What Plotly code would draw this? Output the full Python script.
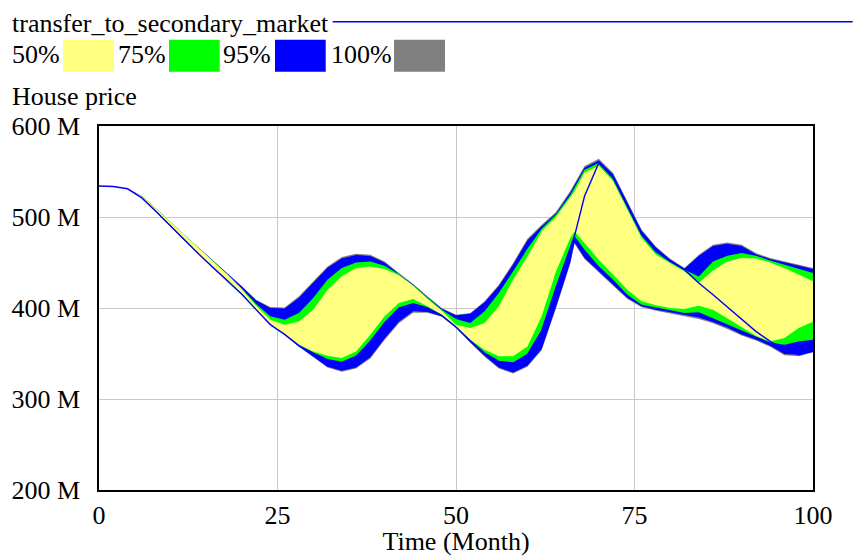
import plotly.graph_objects as go

# ---- data (House price, millions) ----
time = [0, 2, 4, 6, 8, 10, 12, 14, 16, 18, 20, 22, 24, 26, 28, 30, 32, 34, 36, 38, 40, 42, 44, 46, 48, 50,
        52, 54, 56, 58, 60, 62, 64, 66, 66.6, 68, 70, 72, 74, 76, 78, 80, 82, 84, 86, 88, 90, 92, 94, 96, 98, 100]

hi100 = [534, 533.5, 531, 523, 509, 494, 480, 466,
         452, 438, 424, 409, 401,
         400.5, 412.8, 429.3, 445.7, 456.0, 459.7, 458.6, 451.2, 438.4, 426.5, 412.8, 400.0, 392.6,
         394.5, 407.3, 425.6, 449.4, 476.0, 491.5, 505.5, 528.5,
         537,
         556, 564, 548.3, 517.2, 486.1, 467.7, 454.0, 443.9, 458.6, 469.6, 472.1, 469.6, 460.4, 454.9, 451.2, 447.6, 443.9]
hi95 = [534, 533.5, 531, 523, 509, 494, 480, 466,
        452, 438, 423.8, 408.6, 400,
        399.5, 411.3, 427.8, 444.2, 454.5, 458.2, 457.2, 450, 437.3, 425.6, 412, 399.3, 392,
        393.7, 406.2, 424.2, 447.8, 474.3, 489.8, 503.8, 526.7,
        535.2,
        554.2, 562, 547, 515.8, 484.8, 466.5, 453.2, 443.3, 457.2, 468, 470.6, 468.2, 459.2, 453.8, 450.2, 446.5, 442.8]
hi75 = [534, 533.5, 531, 523, 509, 494, 480, 465.8,
        451.5, 437, 421.5, 404.5, 391,
        387.1, 394.5, 411, 431.1, 443.9, 450.1, 451.2, 446.5, 437, 425, 411, 398, 387.9,
        383.5, 396.3, 416.5, 440.3, 465, 487, 502.5, 524,
        532,
        552, 559.3, 542.8, 511.7, 480.6, 462.2, 451.2, 442.1, 434.7, 451.2, 457.5, 460.4, 457.5, 452.3, 447.6, 442.8, 438.4]
hi50 = [534, 533.5, 531, 523, 509, 494, 480, 465.6,
        451, 436.5, 420.5, 402.5, 387.1,
        381.7, 385.3, 398.1, 420.1, 434.8, 443.9, 445.7, 442.8, 436, 424.5, 410, 397, 381.7,
        378, 383.5, 401.8, 431.1, 456.7, 484, 500, 520.8,
        528,
        549, 556.4, 539.2, 508, 476.9, 458.6, 449.4, 440.2, 427.4, 441.3, 451.2, 454.9, 454.5, 450.1, 443.9, 436.6, 429.3]
lo50 = [534, 533.5, 531, 521.5, 506.5, 490.5, 474.5, 459.5,
        445, 431, 416, 399, 383,
        371.5, 359.7, 352.3, 347.6, 345, 352.3, 370.6, 390.8, 405.5, 409.9, 401.8, 392.6, 379.8,
        365.2, 354.2, 346.9, 346.9, 357.8, 391, 440, 477,
        484,
        471.4, 453.1, 436.6, 420.1, 407.3, 402.9, 400, 398.9, 402.5, 398.1, 387.9, 379.1, 369.5, 363.3, 367, 378, 385]
lo75 = [534, 533.5, 531, 521.3, 506.3, 490.3, 474.3, 459.3,
        444.6, 430.6, 415.6, 398.6, 382.3,
        371, 358.6, 350.5, 343.2, 340.2, 346.8, 363.3, 383.5, 400, 404.7, 400, 391.9, 379.1,
        364.1, 350.5, 341.4, 339.5, 348.7, 375, 422, 466,
        479,
        464.1, 445.8, 431.1, 414.6, 403.6, 400, 397.4, 394.5, 395.2, 389, 381.6, 375.4, 368.8, 362.2, 359.7, 363.3, 365]
lo95 = [534, 533.5, 531, 521, 506, 490, 474, 459,
        444.2, 430.2, 415.2, 398.2, 381.6,
        370.6, 357.8, 347, 335.5, 331, 334.5, 346, 366.5, 385, 396.5, 395.5, 391, 378.5,
        362.5, 347.5, 334.5, 329, 336.5, 355, 401, 450,
        472,
        455, 440.3, 425.6, 411, 401.8, 398.1, 395.2, 392, 389.5, 384.5, 378.5, 371, 365.5, 358.5, 349.5, 348.5, 352.5]
lo100 = [534, 533.5, 531, 521, 506, 490, 474, 459,
         444, 430, 415, 398, 381.3,
         370.3, 357.3, 346.3, 334.5, 330, 333.5, 344.5, 364.8, 383.3, 394.8, 394.8, 390.5, 378,
         361.8, 346.5, 333.5, 328, 335.5, 353.5, 399.5, 448.5,
         470.5,
         453.8, 439, 424.5, 410, 400.8, 397, 393.7, 390.8, 388, 383.2, 377, 369.8, 364.3, 357.3, 348.2, 347, 351.5]
base_run = [534, 533.5, 531, 521, 506, 490, 474, 459,
            444.2, 430.2, 415.2, 398.2, 381.6,
            371, 358.6, 350.5, 343.2, 340.2, 346.8, 363.3, 383.5, 400, 404.7, 400, 391.9, 379.1,
            364.1, 350.5, 341.4, 339.5, 348.7, 375, 422, 466,
            479,
            522.7, 559.3, 542.8, 511.7, 480.6, 462.2, 451.2, 442.1, 427.4, 414.6, 401, 387.1, 374.3, 363.3, 354.2, 348.7, 352.5]

y_tickvals = [200, 300, 400, 500, 600]
y_ticktext = ["200 M", "300 M", "400 M", "500 M", "600 M"]
x_tickvals = [0, 25, 50, 75, 100]

band_labels = ["50%", "75%", "95%", "100%"]
band_colors = ["#ffff80", "#00ff00", "#0000ff", "#808080"]

FONT = "Liberation Serif"
FS = 26

fig = go.Figure()


def add_band(hi, lo, color):
    fig.add_trace(go.Scatter(
        x=time + time[::-1], y=hi + lo[::-1], fill="toself", fillcolor=color,
        mode="lines", line=dict(width=0, color=color), hoverinfo="skip", showlegend=False))


add_band(hi100, lo100, band_colors[3])
add_band(hi95, lo95, band_colors[2])
add_band(hi75, lo75, band_colors[1])
add_band(hi50, lo50, band_colors[0])

fig.add_trace(go.Scatter(x=time, y=base_run, mode="lines",
                         line=dict(color="#0000ff", width=1.4), showlegend=False,
                         name="transfer_to_secondary_market"))

# ---- layout ----
L, R, T, B = 99.3, 813.3, 126.3, 490.3
W_PLOT, H_PLOT = R - L, B - T


def px_x(px):
    return (px - L) / W_PLOT


def px_y(py):
    return (B - py) / H_PLOT


annotations = [
    dict(text="transfer_to_secondary_market", x=px_x(10.5), y=px_y(24), xanchor="left", yanchor="middle"),
    dict(text="House price", x=px_x(10), y=px_y(97), xanchor="left", yanchor="middle"),
]
label_x = [10.5, 116.5, 221.5, 329.5]
swatch_x = [(63.3, 114.3), (169.3, 220), (275.3, 326), (394.3, 445.3)]
for lab, lx in zip(band_labels, label_x):
    annotations.append(dict(text=lab, x=px_x(lx), y=px_y(55), xanchor="left", yanchor="middle"))
for a in annotations:
    a.update(xref="paper", yref="paper", showarrow=False,
             font=dict(family=FONT, size=FS, color="black"))

shapes = []
for (x0, x1), c in zip(swatch_x, band_colors):
    shapes.append(dict(type="rect", xref="paper", yref="paper",
                       x0=px_x(x0), x1=px_x(x1), y0=px_y(72), y1=px_y(40),
                       fillcolor=c, line=dict(width=0)))
shapes.append(dict(type="line", xref="paper", yref="paper",
                   x0=px_x(333), x1=px_x(853), y0=px_y(22), y1=px_y(22),
                   line=dict(color="#0000ff", width=1.4)))

fig.update_layout(
    width=853, height=556,
    margin=dict(l=L, r=853 - R, t=T, b=556 - B, pad=0),
    paper_bgcolor="white", plot_bgcolor="white",
    font=dict(family=FONT, size=FS, color="black"),
    showlegend=False,
    annotations=annotations,
    shapes=shapes,
    xaxis=dict(range=[0, 100], tickvals=x_tickvals, showgrid=True, gridcolor="#c8c8c8", gridwidth=1,
               showline=True, linecolor="black", linewidth=1.5, mirror=True, zeroline=False,
               ticks="", ticklabelstandoff=1, automargin=False,
               title=dict(text="Time (Month)", font=dict(family=FONT, size=FS), standoff=8)),
    yaxis=dict(range=[200, 600], tickvals=y_tickvals, ticktext=y_ticktext, showgrid=True,
               gridcolor="#c8c8c8", gridwidth=1, automargin=False,
               showline=True, linecolor="black", linewidth=1.5, mirror=True, zeroline=False,
               ticks="", ticklabelstandoff=12),
)

fig.write_html("out.html", config={"displayModeBar": False},
               post_script="document.body.style.margin='0';document.body.style.overflow='hidden';")
